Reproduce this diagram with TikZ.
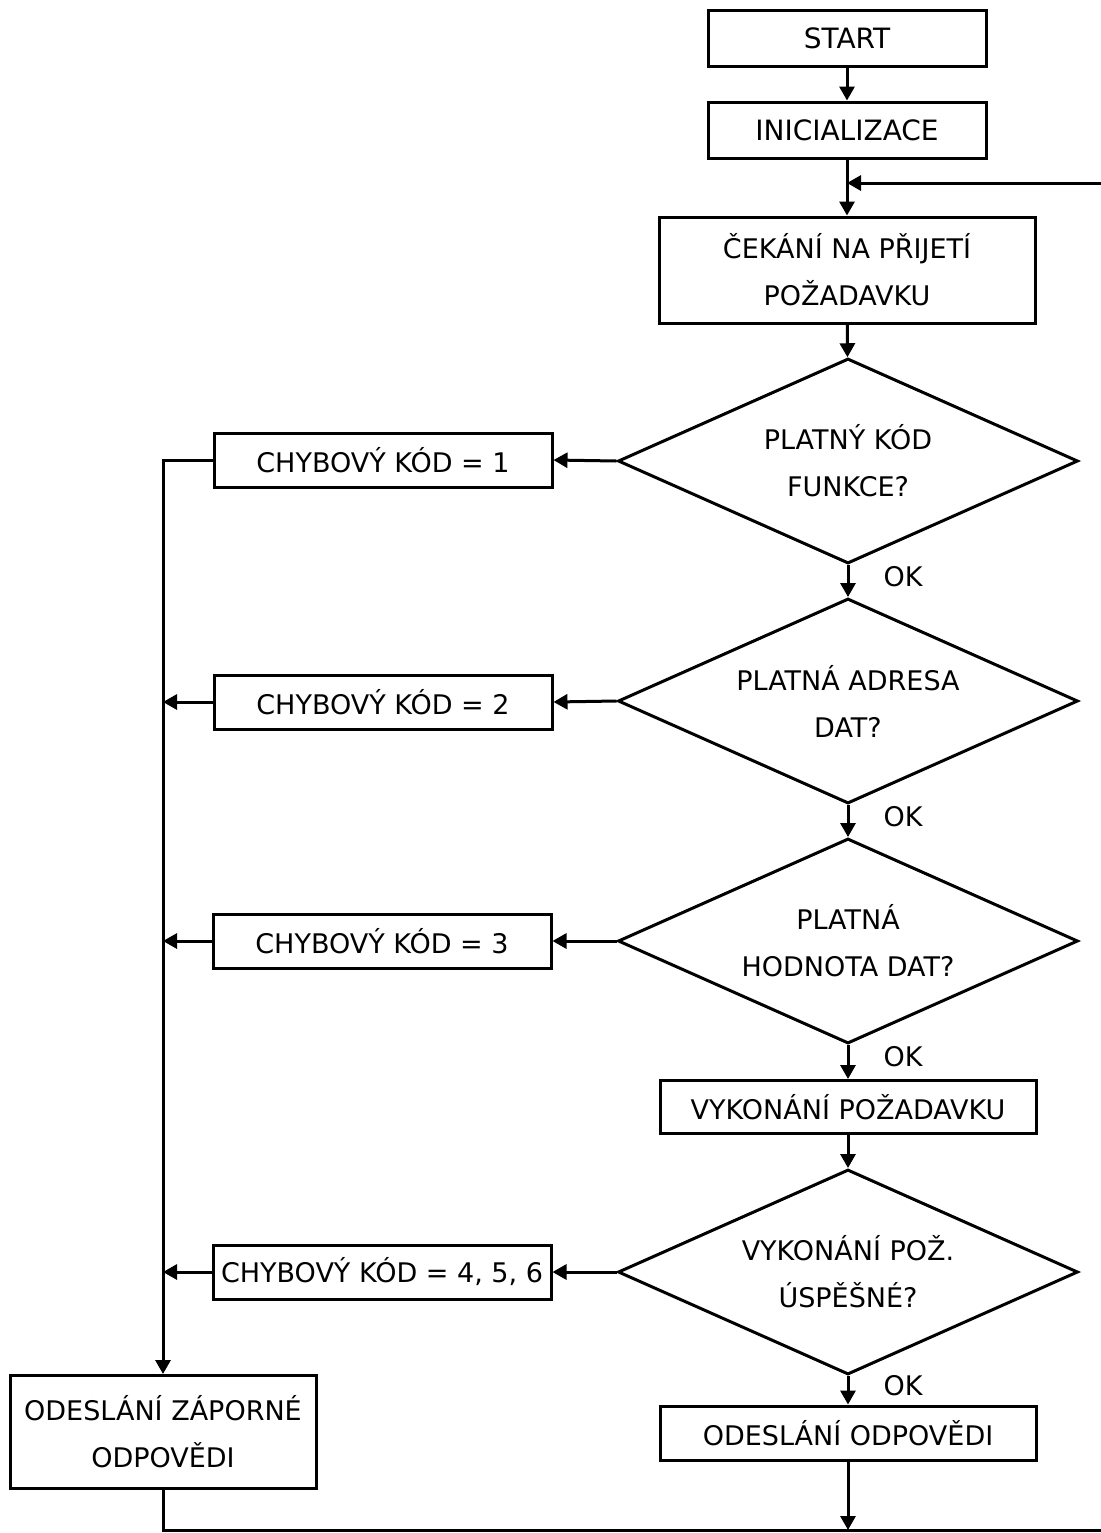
\documentclass[tikz,border=0pt]{standalone}
\usepackage{fontspec}
\setmainfont{DejaVu Sans}
\usetikzlibrary{shapes.geometric,arrows.meta}

\tikzset{
  x=0.5pt, y=-0.5pt,
  every node/.style={font=\fontsize{13.5}{23.5}\selectfont, align=center, inner sep=0pt},
  stepbox/.style={draw, line width=1.5pt, rectangle, minimum width=188pt, minimum height=27pt},
  topbox/.style={stepbox, minimum width=139pt, minimum height=28pt, font=\fontsize{14}{23.5}\selectfont},
  errbox/.style={stepbox, minimum width=169pt, minimum height=27pt},
  decision/.style={draw, line width=1.5pt, diamond, aspect=2.25, minimum width=230pt, minimum height=102.5pt},
  flow/.style={line width=1.5pt, -{Triangle[length=7pt,width=7.5pt]}},
  wire/.style={line width=1.5pt},
  oklabel/.style={anchor=west, xshift=17pt}
}

\begin{document}
\begin{tikzpicture}
\useasboundingbox (0,0) rectangle (1101,1533);

% main column
\node[topbox] (start) at (847,38) {START};
\node[topbox] (init) at (847,130) {INICIALIZACE};
\node[stepbox, minimum height=53pt] (wait) at (847,270) {ČEKÁNÍ NA PŘIJETÍ\\POŽADAVKU};
\node[decision] (d1) at (848,461) {PLATNÝ KÓD\\FUNKCE?};
\node[decision] (d2) at (848,701) {PLATNÁ ADRESA\\DAT?};
\node[decision] (d3) at (848,941) {PLATNÁ\\HODNOTA DAT?};
\node[stepbox, minimum height=26.5pt] (exec) at (848,1107) {VYKONÁNÍ POŽADAVKU};
\node[decision] (d4) at (848,1272) {VYKONÁNÍ POŽ.\\ÚSPĚŠNÉ?};
\node[stepbox] (send) at (848,1433) {ODESLÁNÍ ODPOVĚDI};

% error branch
\node[errbox] (e1) at (383,460) {CHYBOVÝ KÓD = 1};
\node[errbox] (e2) at (383,702) {CHYBOVÝ KÓD = 2};
\node[errbox] (e3) at (382,941) {CHYBOVÝ KÓD = 3};
\node[errbox] (e4) at (382,1272) {CHYBOVÝ KÓD = 4, 5, 6};
\node[stepbox, minimum width=153pt, minimum height=56.5pt] (neg) at (163,1432) {ODESLÁNÍ ZÁPORNÉ\\ODPOVĚDI};

% junction points
\coordinate (merge) at (847,183);
\coordinate (bus) at (163,460);
\coordinate (join) at (848,1530);
\coordinate (negdown) at (163,1530);
\coordinate (loopbr) at (1106,1530);
\coordinate (looptr) at (1106,183);

% main flow
\draw[flow] (start) -- (init);
\draw[wire] (init) -- (merge);
\draw[flow] (merge) -- (wait);
\draw[flow] (wait) -- (d1);
\draw[flow] (d1) -- node[oklabel, pos=0.35] {OK} (d2);
\draw[flow] (d2) -- node[oklabel, pos=0.35] {OK} (d3);
\draw[flow] (d3) -- node[oklabel, pos=0.35] {OK} (exec);
\draw[flow] (exec) -- (d4);
\draw[flow] (d4) -- node[oklabel, pos=0.35] {OK} (send);
\draw[flow] (send) -- (join);

% error paths
\draw[flow] (d1.west) -- (e1.east);
\draw[flow] (d2.west) -- (e2.east);
\draw[flow] (d3.west) -- (e3.east);
\draw[flow] (d4.west) -- (e4.east);
\draw[flow] (e1.west) -- (bus) -- (neg.north);
\draw[flow] (e2.west) -- (bus |- e2.west);
\draw[flow] (e3.west) -- (bus |- e3.west);
\draw[flow] (e4.west) -- (bus |- e4.west);

% return loop
\draw[wire] (neg.south) -- (negdown) -- (join);
\draw[flow] (join) -- (loopbr) -- (looptr) -- (merge);
\end{tikzpicture}
\end{document}
